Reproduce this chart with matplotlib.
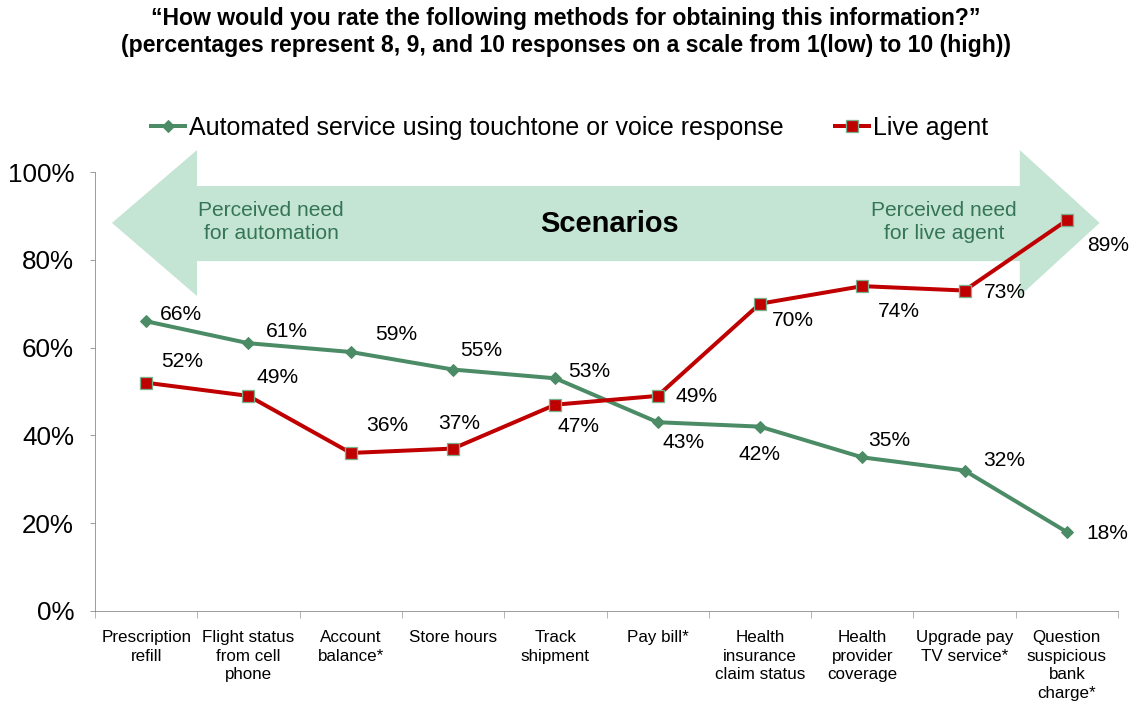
import numpy as np
import matplotlib.pyplot as plt
from matplotlib.patches import Polygon
from matplotlib.ticker import FixedLocator, PercentFormatter

plt.rcParams["font.family"] = ["Liberation Sans", "DejaVu Sans"]

categories = ["Prescription\nrefill", "Flight status\nfrom cell\nphone", "Account\nbalance*",
              "Store hours", "Track\nshipment", "Pay bill*", "Health\ninsurance\nclaim status",
              "Health\nprovider\ncoverage", "Upgrade pay\nTV service*", "Question\nsuspicious\nbank\ncharge*"]
automated = [66, 61, 59, 55, 53, 43, 42, 35, 32, 18]
live_agent = [52, 49, 36, 37, 47, 49, 70, 74, 73, 89]

# label offsets in pixels (figure is 72 dpi so points == pixels)
auto_offsets = [(35, 7), (38, 12), (45, 17), (28, 19), (34, 7), (26, -20), (0, -28), (27, 17), (40, 10), (40, -2)]
live_offsets = [(36, 21), (29, 18), (36, 27), (6, 25), (23, -22), (39, -1), (33, -17), (37, -25), (40, -2), (41, -25)]

GREEN = "#4b8c66"
RED = "#c00000"
ARROW = "#c4e4d4"
TEXT_GREEN = "#357556"

fig = plt.figure(figsize=(1132 / 72, 708 / 72), dpi=72)
ax = fig.add_axes([95 / 1132, 97 / 708, 1023 / 1132, 439 / 708])

x = np.arange(len(categories))

# double arrow behind the lines
arrow_pts = [(0.0166, 0.884), (0.0997, 1.050), (0.0997, 0.968), (0.904, 0.968), (0.904, 1.050),
             (0.982, 0.884), (0.904, 0.7175), (0.904, 0.797), (0.0997, 0.797), (0.0997, 0.7175)]
ax.add_patch(Polygon(arrow_pts, closed=True, transform=ax.transAxes, facecolor=ARROW,
                     edgecolor="none", clip_on=False, zorder=0))
ax.text(0.172, 0.886, "Perceived need\nfor automation", transform=ax.transAxes, ha="center",
        va="center", fontsize=21, color=TEXT_GREEN, linespacing=1.3)
ax.text(0.503, 0.882, "Scenarios", transform=ax.transAxes, ha="center", va="center",
        fontsize=29, fontweight="bold", color="black")
ax.text(0.830, 0.886, "Perceived need\nfor live agent", transform=ax.transAxes, ha="center",
        va="center", fontsize=21, color=TEXT_GREEN, linespacing=1.3)

ax.plot(x, automated, color=GREEN, lw=4, marker="D", ms=9, mfc=GREEN, mec=GREEN,
        label="Automated service using touchtone or voice response", zorder=3)
ax.plot(x, live_agent, color=RED, lw=4, marker="s", ms=12, mfc=RED, mec="#79b08e", mew=1.3,
        label="Live agent", zorder=3)

for xi, v, off in zip(x, automated, auto_offsets):
    ax.annotate(f"{v}%", (xi, v), xytext=off, textcoords="offset points", ha="center",
                va="center", fontsize=21)
for xi, v, off in zip(x, live_agent, live_offsets):
    ax.annotate(f"{v}%", (xi, v), xytext=off, textcoords="offset points", ha="center",
                va="center", fontsize=21)

ax.set_xlim(-0.5, len(categories) - 0.5)
ax.set_ylim(0, 100)
ax.set_yticks(np.arange(0, 101, 20))
ax.yaxis.set_major_formatter(PercentFormatter(decimals=0))
ax.tick_params(axis="y", labelsize=26, length=5, color="#868686", pad=16)
ax.set_xticks(x)
ax.set_xticklabels(categories, fontsize=17, linespacing=1.3, va="top")
ax.tick_params(axis="x", which="major", length=0, pad=19)
ax.xaxis.set_minor_locator(FixedLocator(np.arange(-0.5, len(categories), 1)))
ax.tick_params(axis="x", which="minor", length=7, color="#868686")

for s in ["top", "right"]:
    ax.spines[s].set_visible(False)
for s in ["left", "bottom"]:
    ax.spines[s].set_color("#868686")

fig.legend(loc="center", bbox_to_anchor=(0.503, 1 - 128 / 708), ncol=2, frameon=False,
           fontsize=25, handlelength=1.36, handletextpad=0.15, columnspacing=2.05)

fig.text(0.5, 1 - 32 / 708, "\u201cHow would you rate the following methods for obtaining this information?\u201d\n"
         "(percentages represent 8, 9, and 10 responses on a scale from 1(low) to 10 (high))",
         ha="center", va="center", fontsize=23, fontweight="bold", linespacing=1.2)

fig.savefig("out.png", dpi=72)
